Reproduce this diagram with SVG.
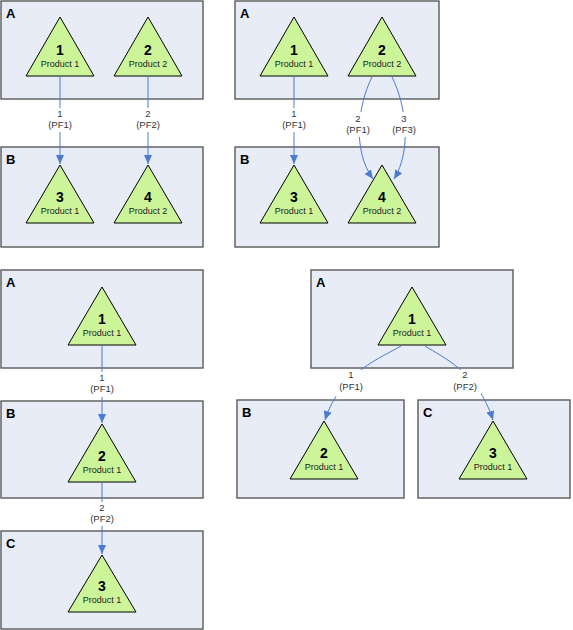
<svg xmlns="http://www.w3.org/2000/svg" width="573" height="630" viewBox="0 0 573 630">
<defs>
<style>
.box{fill:#e7ecf7;stroke:#5a5a5a;stroke-width:1.4}
.bl{font-family:"Liberation Sans",Arial,sans-serif;font-weight:bold;font-size:13px;fill:#000}
.tri{fill:#ccf599;stroke:#000;stroke-width:1}
.num{font-family:"Liberation Sans",Arial,sans-serif;font-weight:bold;font-size:14px;fill:#000;text-anchor:middle}
.prod{font-family:"Liberation Sans",Arial,sans-serif;font-size:9px;fill:#222;text-anchor:middle}
.con{fill:none;stroke:#4a7bd0;stroke-width:1;marker-end:url(#arr)}
.lbg{fill:#fff}
.lt{font-family:"Liberation Sans",Arial,sans-serif;font-size:9.5px;fill:#333;text-anchor:middle}
</style>
<marker id="arr" markerUnits="userSpaceOnUse" markerWidth="9" markerHeight="8" refX="9" refY="4" orient="auto">
<path d="M0,0 L9,4 L0,8 z" fill="#4a7bd0"/>
</marker>
</defs>
<rect width="573" height="630" fill="#fff"/>

<!-- Top-left panel -->
<g id="tl-boxA"><rect class="box" x="1" y="1" width="202" height="98"/><text class="bl" x="6" y="18">A</text></g>
<g id="tl-boxB"><rect class="box" x="1" y="147" width="202" height="100"/><text class="bl" x="6" y="164">B</text></g>
<g id="tl-n1"><path class="tri" d="M60,17 L94,76 L26,76 Z"/><text class="num" x="60" y="55">1</text><text class="prod" x="60" y="67">Product 1</text></g>
<g id="tl-n2"><path class="tri" d="M148,17 L182,76 L114,76 Z"/><text class="num" x="148" y="55">2</text><text class="prod" x="148" y="67">Product 2</text></g>
<g id="tl-n3"><path class="tri" d="M60,165 L94,223 L26,223 Z"/><text class="num" x="60" y="202">3</text><text class="prod" x="60" y="214">Product 1</text></g>
<g id="tl-n4"><path class="tri" d="M148,165 L182,223 L114,223 Z"/><text class="num" x="148" y="202">4</text><text class="prod" x="148" y="214">Product 2</text></g>

<!-- Top-right panel -->
<g id="tr-boxA"><rect class="box" x="235" y="1" width="204" height="98"/><text class="bl" x="240" y="18">A</text></g>
<g id="tr-boxB"><rect class="box" x="235" y="147" width="204" height="100"/><text class="bl" x="240" y="164">B</text></g>
<g id="tr-n1"><path class="tri" d="M294,17 L328,76 L260,76 Z"/><text class="num" x="294" y="55">1</text><text class="prod" x="294" y="67">Product 1</text></g>
<g id="tr-n2"><path class="tri" d="M382,17 L416,76 L348,76 Z"/><text class="num" x="382" y="55">2</text><text class="prod" x="382" y="67">Product 2</text></g>
<g id="tr-n3"><path class="tri" d="M294,165 L328,223 L260,223 Z"/><text class="num" x="294" y="202">3</text><text class="prod" x="294" y="214">Product 1</text></g>
<g id="tr-n4"><path class="tri" d="M382,165 L416,223 L348,223 Z"/><text class="num" x="382" y="202">4</text><text class="prod" x="382" y="214">Product 2</text></g>

<!-- Bottom-left panel -->
<g id="bl-boxA"><rect class="box" x="1" y="270" width="202" height="98"/><text class="bl" x="6" y="287">A</text></g>
<g id="bl-boxB"><rect class="box" x="1" y="401" width="202" height="97"/><text class="bl" x="6" y="418">B</text></g>
<g id="bl-boxC"><rect class="box" x="1" y="531" width="202" height="98"/><text class="bl" x="6" y="548">C</text></g>
<g id="bl-n1"><path class="tri" d="M102,287 L136,345 L68,345 Z"/><text class="num" x="102" y="324">1</text><text class="prod" x="102" y="336">Product 1</text></g>
<g id="bl-n2"><path class="tri" d="M102,424 L136,482 L68,482 Z"/><text class="num" x="102" y="461">2</text><text class="prod" x="102" y="473">Product 1</text></g>
<g id="bl-n3"><path class="tri" d="M102,555 L136,612 L68,612 Z"/><text class="num" x="102" y="591">3</text><text class="prod" x="102" y="603">Product 1</text></g>

<!-- Bottom-right panel -->
<g id="br-boxA"><rect class="box" x="311" y="270" width="202" height="98"/><text class="bl" x="316" y="287">A</text></g>
<g id="br-boxB"><rect class="box" x="237" y="400" width="167" height="98"/><text class="bl" x="242" y="417">B</text></g>
<g id="br-boxC"><rect class="box" x="418" y="400" width="152" height="98"/><text class="bl" x="423" y="417">C</text></g>
<g id="br-n1"><path class="tri" d="M412,287 L446,345 L378,345 Z"/><text class="num" x="412" y="324">1</text><text class="prod" x="412" y="336">Product 1</text></g>
<g id="br-n2"><path class="tri" d="M324,421 L358,479 L290,479 Z"/><text class="num" x="324" y="458">2</text><text class="prod" x="324" y="470">Product 1</text></g>
<g id="br-n3"><path class="tri" d="M493,421 L527,479 L459,479 Z"/><text class="num" x="493" y="458">3</text><text class="prod" x="493" y="470">Product 1</text></g>

<!-- Connectors -->
<g id="connectors">
<path class="con" d="M60,76 L60,164"/>
<rect class="lbg" x="44" y="108" width="32" height="24"/>
<text class="lt" x="60" y="117">1</text><text class="lt" x="60" y="128">(PF1)</text>

<path class="con" d="M148,76 L148,164"/>
<rect class="lbg" x="132" y="108" width="32" height="24"/>
<text class="lt" x="148" y="117">2</text><text class="lt" x="148" y="128">(PF2)</text>

<path class="con" d="M294,76 L294,164"/>
<rect class="lbg" x="278" y="108" width="32" height="24"/>
<text class="lt" x="294" y="117">1</text><text class="lt" x="294" y="128">(PF1)</text>

<path class="con" d="M372,77 C358,105 352,150 373,179"/>
<rect class="lbg" x="343" y="112" width="31" height="25"/>
<text class="lt" x="358" y="122">2</text><text class="lt" x="358" y="133">(PF1)</text>

<path class="con" d="M392,77 C406,105 412,150 394,179"/>
<rect class="lbg" x="389" y="112" width="31" height="25"/>
<text class="lt" x="404" y="122">3</text><text class="lt" x="404" y="133">(PF3)</text>

<path class="con" d="M102,345 L102,423"/>
<rect class="lbg" x="86" y="372" width="32" height="25"/>
<text class="lt" x="102" y="381">1</text><text class="lt" x="102" y="392">(PF1)</text>

<path class="con" d="M102,482 L102,554"/>
<rect class="lbg" x="86" y="502" width="32" height="24"/>
<text class="lt" x="102" y="511">2</text><text class="lt" x="102" y="522">(PF2)</text>

<path class="con" d="M401,346 C383,357 340,372 325,420"/>
<rect class="lbg" x="336" y="370" width="31" height="26"/>
<text class="lt" x="351" y="378">1</text><text class="lt" x="351" y="390">(PF1)</text>

<path class="con" d="M425,346 C442,357 478,372 493,420"/>
<rect class="lbg" x="450" y="370" width="31" height="26"/>
<text class="lt" x="465" y="378">2</text><text class="lt" x="465" y="390">(PF2)</text>
</g>
</svg>
